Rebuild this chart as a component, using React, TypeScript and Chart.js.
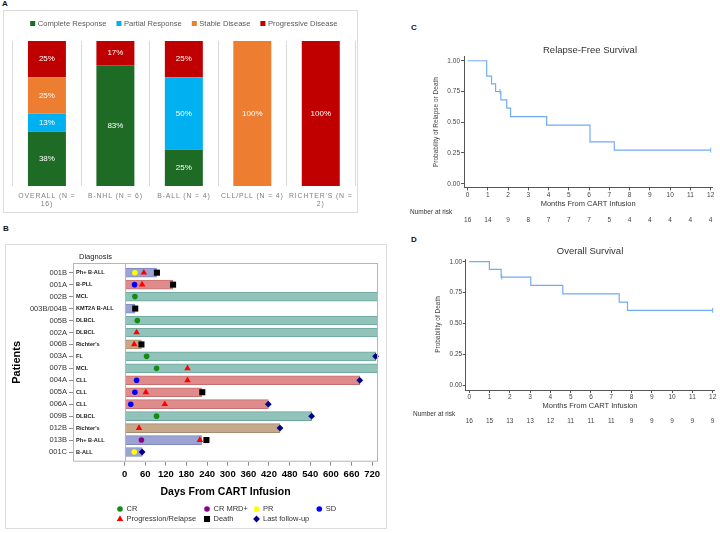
import React, { useEffect, useRef } from 'react';
import { Chart, registerables } from 'chart.js';

Chart.register(...registerables);

const SANS = "'Liberation Sans', Arial, Helvetica, sans-serif";

// ---------- A: best response by disease group (% of patients) ----------
const responseGroups = [
  ['OVERALL (N =', '16)'],
  ['B-NHL (N = 6)'],
  ['B-ALL (N = 4)'],
  ['CLL/PLL (N = 4)'],
  ["RICHTER'S (N =", '2)'],
];
const completeResponsePct = [37.5, 83.3, 25, 0, 0];
const partialResponsePct = [12.5, 0, 50, 0, 0];
const stableDiseasePct = [25, 0, 0, 100, 0];
const progressiveDiseasePct = [25, 16.7, 25, 0, 100];
const responseNames = ['Complete Response', 'Partial Response', 'Stable Disease', 'Progressive Disease'];
const responseColors = ['#1e6b26', '#00b0f0', '#ed7d31', '#c00000'];

// ---------- B: swimmer plot (days from CART infusion) ----------
const patientIds = ['001B', '001A', '002B', '003B/004B', '005B', '002A', '006B', '003A', '007B', '004A', '005A', '006A', '009B', '012B', '013B', '001C'];
const diagnoses = ['Ph+ B-ALL', 'B-PLL', 'MCL', 'KMT2A B-ALL', 'DLBCL', 'DLBCL', "Richter's", 'FL', 'MCL', 'CLL', 'CLL', 'CLL', 'DLBCL', "Richter's", 'Ph+ B-ALL', 'B-ALL'];
// ongoing follow-up runs past the end of the axis
const followUpDays = [93, 140, 760, 30, 760, 760, 49, 730, 760, 684, 224, 418, 544, 452, 224, 51];
const crDays = [null, null, 30, null, 37, null, null, 64, 93, null, null, null, 93, null, null, null];
const crMrdDays = [null, null, null, null, null, null, null, null, null, null, null, null, null, null, 49, null];
const prDays = [30, null, null, null, null, null, null, null, null, null, null, null, null, null, null, 28];
const sdDays = [null, 29, null, null, null, null, null, null, null, 35, 30, 18, null, null, null, null];
const relapseDays = [56, 51, null, null, null, 35, 28, null, 183, 183, 62, 117, null, 42, 219, null];
const deathDays = [94, 141, null, 31, null, null, 49, null, null, null, 226, null, null, null, 238, null];
const lastFollowUpDays = [null, null, null, null, null, null, null, 730, null, 684, null, 418, 544, 452, null, 51];
const dayTicks = [0, 60, 120, 180, 240, 300, 360, 420, 480, 540, 600, 660, 720];
const eventNames = ['CR', 'CR MRD+', 'PR', 'SD', 'Progression/Relapse', 'Death', 'Last follow-up'];

// ---------- C / D: Kaplan-Meier curves ----------
const monthTicks = [0, 1, 2, 3, 4, 5, 6, 7, 8, 9, 10, 11, 12];
const probTicks = [0, 0.25, 0.5, 0.75, 1];
const rfsMonths = [0, 0.94, 1.18, 1.38, 1.64, 1.93, 2.12, 3.9, 6.04, 7.24, 12];
const rfsProb = [1, 0.875, 0.8125, 0.75, 0.682, 0.614, 0.545, 0.477, 0.341, 0.273, 0.273];
const rfsCensorMonths = [1.6, 12];
const rfsCensorProb = [0.75, 0.273];
const rfsAtRisk = [16, 14, 9, 8, 7, 7, 7, 5, 4, 4, 4, 4, 4];
const osMonths = [0, 0.99, 1.57, 3.03, 4.61, 7.39, 7.8, 12];
const osProb = [1, 0.9375, 0.875, 0.808, 0.74, 0.673, 0.606, 0.606];
const osCensorMonths = [1.6, 12];
const osCensorProb = [0.875, 0.606];
const osAtRisk = [16, 15, 13, 13, 12, 11, 11, 11, 9, 9, 9, 9, 9];

// ---------- styles ----------
const diagnosisFill: Record<string, string> = {
  'Ph+ B-ALL': '#9ba3d3', 'KMT2A B-ALL': '#9ba3d3', 'B-ALL': '#9ba3d3',
  'B-PLL': '#df8b8b', CLL: '#df8b8b',
  MCL: '#92c3ba', DLBCL: '#92c3ba', FL: '#92c3ba',
  "Richter's": '#c6a98b',
};
const diagnosisEdge: Record<string, string> = {
  'Ph+ B-ALL': '#7e87bf', 'KMT2A B-ALL': '#7e87bf', 'B-ALL': '#7e87bf',
  'B-PLL': '#c86f6f', CLL: '#c86f6f',
  MCL: '#6aa69c', DLBCL: '#6aa69c', FL: '#6aa69c',
  "Richter's": '#a98b6d',
};
const markerStyles = [
  { style: 'circle', r: 2.8, color: '#128c12' },
  { style: 'circle', r: 2.8, color: '#8b008b' },
  { style: 'circle', r: 2.8, color: '#ffff00' },
  { style: 'circle', r: 2.8, color: '#0000ff' },
  { style: 'triangle', r: 3.8, color: '#ff0000' },
  { style: 'rect', r: 4.3, color: '#000000' },
  { style: 'rectRot', r: 3.4, color: '#00008b' },
];
const KM_BLUE = '#72acf2';

function drawMarker(ctx: CanvasRenderingContext2D, style: string, x: number, y: number, r: number, color: string) {
  ctx.save();
  ctx.fillStyle = color;
  ctx.beginPath();
  if (style === 'circle') {
    ctx.arc(x, y, r, 0, Math.PI * 2);
  } else if (style === 'triangle') {
    for (let k = 0; k < 3; k++) {
      const a = (k * 2 * Math.PI) / 3;
      const px = x + Math.sin(a) * r;
      const py = y - Math.cos(a) * r;
      if (k === 0) ctx.moveTo(px, py); else ctx.lineTo(px, py);
    }
    ctx.closePath();
  } else if (style === 'rect') {
    const h = r * Math.SQRT1_2;
    ctx.rect(x - h, y - h, 2 * h, 2 * h);
  } else {
    ctx.moveTo(x - r, y); ctx.lineTo(x, y - r); ctx.lineTo(x + r, y); ctx.lineTo(x, y + r);
    ctx.closePath();
  }
  ctx.fill();
  ctx.restore();
}

function makeResponseChart(canvas: HTMLCanvasElement) {
  const series = [completeResponsePct, partialResponsePct, stableDiseasePct, progressiveDiseasePct];
  const annotate = {
    id: 'responseAnnotations',
    afterDatasetsDraw(chart: any) {
      const { ctx, chartArea } = chart;
      ctx.save();
      // percentage labels inside the segments
      ctx.font = `8px ${SANS}`;
      ctx.fillStyle = '#ffffff';
      ctx.textAlign = 'center';
      ctx.textBaseline = 'middle';
      chart.data.datasets.forEach((ds: any, di: number) => {
        const meta = chart.getDatasetMeta(di);
        meta.data.forEach((el: any, i: number) => {
          const v = ds.data[i];
          if (!v) return;
          const { x, y, base } = el.getProps(['x', 'y', 'base'], true);
          ctx.fillText(`${Math.round(v)}%`, x, (y + base) / 2);
        });
      });
      // legend row
      ctx.font = `7.6px ${SANS}`;
      ctx.textAlign = 'left';
      const box = 5, gap = 2.5, itemGap = 10;
      const widths = responseNames.map((n) => box + gap + ctx.measureText(n).width);
      const total = widths.reduce((a, b) => a + b, 0) + itemGap * (widths.length - 1);
      let x = (chartArea.left + chartArea.right) / 2 - total / 2;
      const y = 12.5;
      responseNames.forEach((n, i) => {
        ctx.fillStyle = responseColors[i];
        ctx.fillRect(x, y - box / 2, box, box);
        ctx.fillStyle = '#595959';
        ctx.fillText(n, x + box + gap, y);
        x += widths[i] + itemGap;
      });
      ctx.restore();
      // category labels are drawn after this hook, with wide tracking
      (ctx as any).letterSpacing = '0.85px';
    },
    afterDraw(chart: any) {
      (chart.ctx as any).letterSpacing = '0px';
    },
  };
  return new Chart(canvas, {
    type: 'bar',
    data: {
      labels: responseGroups as any,
      datasets: series.map((data, i) => ({
        label: responseNames[i],
        data,
        backgroundColor: responseColors[i],
        barPercentage: 0.555,
        categoryPercentage: 1,
      })),
    },
    options: {
      animation: false,
      responsive: false,
      layout: { padding: { top: 30, left: 8.7, right: 2, bottom: 0 } },
      plugins: { legend: { display: false }, tooltip: { enabled: false } },
      scales: {
        x: {
          stacked: true,
          grid: { offset: true, drawTicks: false, color: '#d9d9d9' },
          border: { display: false },
          afterFit: (s: any) => { s.height = 26; s.paddingLeft = 0; s.paddingRight = 0; },
          ticks: { z: 1, padding: 5.5, color: '#7f7f7f', maxRotation: 0, minRotation: 0, autoSkip: false, font: { family: SANS, size: 6.9 } },
        },
        y: { stacked: true, display: false, min: 0, max: 100 },
      },
    } as any,
    plugins: [annotate],
  });
}

function toPoints(days: (number | null)[]) {
  return days
    .map((d, i) => (d == null ? null : { x: d, y: i }))
    .filter((p) => p !== null) as { x: number; y: number }[];
}

function makeSwimmerChart(canvas: HTMLCanvasElement) {
  const eventSeries = [crDays, crMrdDays, prDays, sdDays, relapseDays, deathDays, lastFollowUpDays];
  const annotate = {
    id: 'swimmerAnnotations',
    afterDatasetsDraw(chart: any) {
      const { ctx, chartArea, scales } = chart;
      ctx.save();
      // plot frame and diagnosis column divider
      ctx.strokeStyle = '#b5b5b5';
      ctx.lineWidth = 1;
      ctx.strokeRect(chartArea.left + 0.5, chartArea.top + 0.5, chartArea.width - 1, chartArea.height - 1);
      const x0 = Math.round(scales.x.getPixelForValue(0)) + 0.5;
      ctx.beginPath();
      ctx.moveTo(x0, chartArea.top);
      ctx.lineTo(x0, chartArea.bottom);
      ctx.stroke();
      // diagnosis column
      ctx.fillStyle = '#1a1a1a';
      ctx.font = `7.5px ${SANS}`;
      ctx.textBaseline = 'middle';
      ctx.textAlign = 'left';
      ctx.fillText('Diagnosis', chartArea.left + 6, chartArea.top - 6.5);
      ctx.font = `bold 5.6px ${SANS}`;
      diagnoses.forEach((d, i) => {
        ctx.fillText(d, chartArea.left + 3, scales.y.getPixelForValue(i));
      });
      // legend, two rows under the axis title
      const cols = [114, 201, 250.5, 313.3];
      const slots = [[0, 0], [0, 1], [0, 2], [0, 3], [1, 0], [1, 1], [1, 2]];
      ctx.font = `7.5px ${SANS}`;
      eventNames.forEach((name, i) => {
        const [row, col] = slots[i];
        const mx = cols[col];
        const my = 264 + row * 10;
        const m = markerStyles[i];
        drawMarker(ctx, m.style, mx, my, m.r, m.color);
        ctx.fillStyle = '#333333';
        ctx.fillText(name, mx + 6.5, my);
      });
      ctx.restore();
    },
  };
  return new Chart(canvas, {
    type: 'bar',
    data: {
      datasets: [
        {
          type: 'bar',
          label: 'Follow-up',
          indexAxis: 'y',
          data: followUpDays.map((d, i) => ({ x: [0, d], y: i })),
          barThickness: 9,
          backgroundColor: (c: any) => diagnosisFill[diagnoses[c.dataIndex]],
          borderColor: (c: any) => diagnosisEdge[diagnoses[c.dataIndex]],
          borderWidth: 1,
          borderSkipped: false,
          clip: 0,
          order: 10,
        } as any,
        ...eventSeries.map((days, k) => ({
          type: 'scatter',
          label: eventNames[k],
          data: toPoints(days),
          pointStyle: markerStyles[k].style,
          pointRadius: markerStyles[k].r,
          pointBackgroundColor: markerStyles[k].color,
          pointBorderColor: markerStyles[k].color,
          pointBorderWidth: 0,
          clip: false,
          order: 0,
        } as any)),
      ],
    },
    options: {
      animation: false,
      responsive: false,
      layout: { padding: { left: 0, right: 8, top: 18, bottom: 21.3 } },
      plugins: { legend: { display: false }, tooltip: { enabled: false } },
      scales: {
        x: {
          type: 'linear',
          offset: false,
          min: -150,
          max: 737,
          afterBuildTicks: (s: any) => { s.ticks = dayTicks.map((value) => ({ value })); },
          afterFit: (s: any) => { s.height = 45; s.paddingLeft = 0; s.paddingRight = 0; },
          grid: { offset: false, drawOnChartArea: false, tickLength: 4, color: '#8c8c8c' },
          border: { display: false },
          ticks: { padding: 3, color: '#000', autoSkip: false, maxRotation: 0, font: { family: SANS, size: 9.5, weight: 'bold' } },
          title: { display: true, text: 'Days From CART Infusion', color: '#000', font: { family: SANS, size: 10.5, weight: 'bold' }, padding: { top: 0, bottom: 8 } },
        },
        y: {
          type: 'linear',
          offset: false,
          reverse: true,
          min: -0.81,
          max: 15.81,
          afterBuildTicks: (s: any) => { s.ticks = patientIds.map((_, i) => ({ value: i })); },
          afterFit: (s: any) => { s.width = 67; s.paddingTop = 0; s.paddingBottom = 0; },
          grid: { offset: false, drawOnChartArea: false, tickLength: 4, color: '#8c8c8c' },
          border: { display: false },
          ticks: { padding: 2, color: '#333', autoSkip: false, font: { family: SANS, size: 7.5 }, callback: (v: any) => patientIds[v] ?? '' },
          title: { display: true, text: 'Patients', color: '#000', font: { family: SANS, size: 11, weight: 'bold' }, padding: { top: 4.4, bottom: 0 } },
        },
      },
    } as any,
    plugins: [annotate],
  });
}

type KmSetup = {
  months: number[]; prob: number[]; censorMonths: number[]; censorProb: number[]; atRisk: number[];
  title: string; yTitle: string;
  yMin: number; yMax: number; xMin: number; xMax: number;
  yWidth: number; pad: { top: number; right: number; bottom: number };
  xTickPad: number; yTickPad: number; xTitlePad: number; yTitlePad: number;
  titleX: number; titleY: number; riskLabelX: number; riskLabelY: number; riskY: number;
};

function makeKmChart(canvas: HTMLCanvasElement, k: KmSetup) {
  const annotate = {
    id: 'kmAnnotations',
    afterDraw(chart: any) {
      const { ctx, scales } = chart;
      ctx.save();
      ctx.fillStyle = '#333333';
      ctx.textBaseline = 'middle';
      ctx.textAlign = 'center';
      ctx.font = `9.5px ${SANS}`;
      ctx.fillText(k.title, k.titleX, k.titleY);
      ctx.font = `6.5px ${SANS}`;
      ctx.textAlign = 'left';
      ctx.fillText('Number at risk', k.riskLabelX, k.riskLabelY);
      ctx.textAlign = 'center';
      ctx.fillStyle = '#444444';
      k.atRisk.forEach((n, i) => {
        ctx.fillText(String(n), scales.x.getPixelForValue(monthTicks[i]), k.riskY);
      });
      ctx.restore();
    },
  };
  return new Chart(canvas, {
    type: 'line',
    data: {
      datasets: [
        {
          data: k.months.map((m, i) => ({ x: m, y: k.prob[i] })),
          stepped: true,
          borderColor: KM_BLUE,
          borderWidth: 1.2,
          pointRadius: 0,
          fill: false,
        } as any,
        {
          type: 'scatter',
          data: k.censorMonths.map((m, i) => ({ x: m, y: k.censorProb[i] })),
          pointStyle: 'line',
          pointRotation: 90,
          pointRadius: 2.5,
          pointBorderColor: KM_BLUE,
          pointBorderWidth: 1,
          clip: false,
        } as any,
      ],
    },
    options: {
      animation: false,
      responsive: false,
      layout: { padding: { left: 0, ...k.pad } },
      plugins: { legend: { display: false }, tooltip: { enabled: false } },
      scales: {
        x: {
          type: 'linear',
          offset: false,
          min: k.xMin,
          max: k.xMax,
          afterBuildTicks: (s: any) => { s.ticks = monthTicks.map((value) => ({ value })); },
          afterFit: (s: any) => { s.height = 24; s.paddingLeft = 0; s.paddingRight = 0; },
          grid: { drawOnChartArea: false, tickLength: 3, color: '#555' },
          border: { color: '#555', width: 1 },
          ticks: { padding: k.xTickPad, color: '#444', autoSkip: false, maxRotation: 0, font: { family: SANS, size: 6.5 } },
          title: { display: true, text: 'Months From CART Infusion', color: '#333', font: { family: SANS, size: 7.5 }, padding: { top: 0, bottom: k.xTitlePad } },
        },
        y: {
          type: 'linear',
          min: k.yMin,
          max: k.yMax,
          afterBuildTicks: (s: any) => { s.ticks = probTicks.map((value) => ({ value })); },
          afterFit: (s: any) => { s.width = k.yWidth; s.paddingTop = 0; s.paddingBottom = 0; },
          grid: { drawOnChartArea: false, tickLength: 3, color: '#555' },
          border: { color: '#555', width: 1 },
          ticks: { padding: k.yTickPad, color: '#444', font: { family: SANS, size: 6.5 }, callback: (v: any) => Number(v).toFixed(2) },
          title: { display: true, text: k.yTitle, color: '#444', font: { family: SANS, size: 6.5 }, padding: { top: k.yTitlePad, bottom: 0 } },
        },
      },
    } as any,
    plugins: [annotate],
  });
}

const letterStyle: React.CSSProperties = {
  position: 'absolute', fontFamily: SANS, fontWeight: 'bold', fontSize: 8, lineHeight: '8px', color: '#111',
};

export default function App() {
  const aRef = useRef<HTMLCanvasElement>(null);
  const bRef = useRef<HTMLCanvasElement>(null);
  const cRef = useRef<HTMLCanvasElement>(null);
  const dRef = useRef<HTMLCanvasElement>(null);

  useEffect(() => {
    const charts = [
      makeResponseChart(aRef.current!),
      makeSwimmerChart(bRef.current!),
      makeKmChart(cRef.current!, {
        months: rfsMonths, prob: rfsProb, censorMonths: rfsCensorMonths, censorProb: rfsCensorProb, atRisk: rfsAtRisk,
        title: 'Relapse-Free Survival', yTitle: 'Probability of Relapse or Death',
        yMin: -0.03, yMax: 1.033, xMin: -0.18, xMax: 12.08,
        yWidth: 64, pad: { top: 26.7, right: 7.7, bottom: 18.6 },
        xTickPad: 1, yTickPad: 1, xTitlePad: 2.6, yTitlePad: 32.8,
        titleX: 190, titleY: 20, riskLabelX: 10, riskLabelY: 182.7, riskY: 190.7,
      }),
      makeKmChart(dRef.current!, {
        months: osMonths, prob: osProb, censorMonths: osCensorMonths, censorProb: osCensorProb, atRisk: osAtRisk,
        title: 'Overall Survival', yTitle: 'Probability of Death',
        yMin: -0.04, yMax: 1.022, xMin: -0.178, xMax: 12.08,
        yWidth: 65.7, pad: { top: 19, right: 5.7, bottom: 16 },
        xTickPad: 0, yTickPad: 0.5, xTitlePad: 3.8, yTitlePad: 34.4,
        titleX: 190, titleY: 11.5, riskLabelX: 13, riskLabelY: 174.3, riskY: 181.7,
      }),
    ];
    return () => charts.forEach((c) => c.destroy());
  }, []);

  return (
    <div style={{ position: 'absolute', left: 0, top: 0, width: 720, height: 533, background: '#fff', overflow: 'hidden' }}>
      <div style={{ ...letterStyle, left: 2, top: 0 }}>A</div>
      <div style={{ position: 'absolute', left: 3, top: 10, width: 355, height: 203, border: '1px solid #dcdcdc', boxSizing: 'border-box' }} />
      <canvas ref={aRef} width={353} height={201} style={{ position: 'absolute', left: 4, top: 11, width: 353, height: 201 }} />

      <div style={{ ...letterStyle, left: 3, top: 225 }}>B</div>
      <div style={{ position: 'absolute', left: 5, top: 244, width: 382, height: 285, border: '1px solid #dcdcdc', boxSizing: 'border-box' }} />
      <canvas ref={bRef} width={380} height={283} style={{ position: 'absolute', left: 6, top: 245, width: 380, height: 283 }} />

      <div style={{ ...letterStyle, left: 411, top: 23.5 }}>C</div>
      <canvas ref={cRef} width={320} height={200} style={{ position: 'absolute', left: 400, top: 30, width: 320, height: 200 }} />

      <div style={{ ...letterStyle, left: 411, top: 236 }}>D</div>
      <canvas ref={dRef} width={320} height={190} style={{ position: 'absolute', left: 400, top: 240, width: 320, height: 190 }} />
    </div>
  );
}
